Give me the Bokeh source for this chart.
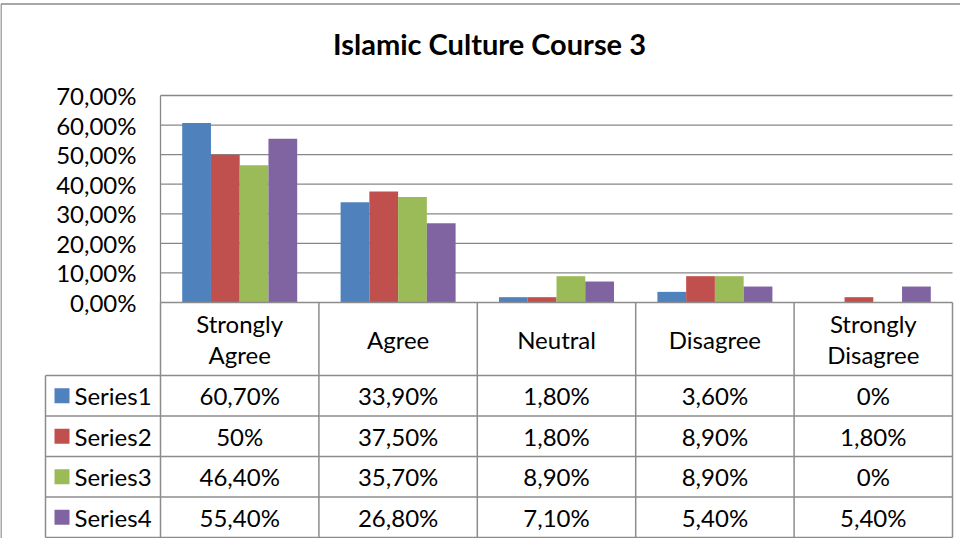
from bokeh.plotting import figure
from bokeh.models import Range1d
from bokeh.embed import file_html
from bokeh.resources import INLINE
from bokeh.core.properties import value

# ---------------- data ----------------
categories = ["Strongly\nAgree", "Agree", "Neutral", "Disagree", "Strongly\nDisagree"]
series_names = ["Series1", "Series2", "Series3", "Series4"]
series1 = [60.7, 33.9, 1.8, 3.6, 0.0]
series2 = [50.0, 37.5, 1.8, 8.9, 1.8]
series3 = [46.4, 35.7, 8.9, 8.9, 0.0]
series4 = [55.4, 26.8, 7.1, 5.4, 5.4]
y_ticks = [0, 10, 20, 30, 40, 50, 60, 70]
colors = ["#4F81BD", "#C0504D", "#9BBB59", "#8064A2"]
title_text = "Islamic Culture Course 3"

series = [series1, series2, series3, series4]

FONT = "Lato"
FS = "24px"

# ---------------- layout helpers ----------------
W, H = 960, 538
OX0, OY0 = 8, 8            # page offset of the figure
PX = 158.4                 # pixels per category
PY = 207.0 / 70.0          # pixels per percent
LEFT, RIGHT, BASE = 168.0, 960.0, 310.0


def X(ox):
    return (ox - LEFT) / PX


def Y(oy):
    return (BASE - oy) / PY


p = figure(width=W, height=H, output_backend="svg", toolbar_location=None,
           x_range=Range1d(X(OX0), X(OX0 + W)), y_range=Range1d(Y(OY0 + H), Y(OY0)),
           min_border=0, x_axis_location=None, y_axis_location=None,
           outline_line_color=None, background_fill_color="white",
           border_fill_color="white")
p.xgrid.visible = False
p.ygrid.visible = False

GRID = "#878787"

# outer chart border (left and top visible)
p.segment(x0=[X(8.5), X(8.5)], y0=[Y(11.5), Y(11.5)], x1=[X(8.5), X(970)], y1=[Y(546), Y(11.5)],
          line_color="#8a8a8a", line_width=1.5)

# gridlines
p.segment(x0=[X(LEFT)] * (len(y_ticks) - 1), y0=y_ticks[1:],
          x1=[X(RIGHT)] * (len(y_ticks) - 1), y1=y_ticks[1:],
          line_color=GRID, line_width=1.3)
# value axis line
p.segment(x0=[X(LEFT)], y0=[0], x1=[X(LEFT)], y1=[y_ticks[-1]], line_color=GRID, line_width=1.3)

# bars
bw = 28.75 / PX
for j, (vals, col) in enumerate(zip(series, colors)):
    xs = [i + 0.5 + (j - 1.5) * bw for i in range(len(categories))]
    p.vbar(x=xs, top=vals, bottom=0, width=bw, fill_color=col, line_color=None)

# y tick labels
def fmt2(v):
    return ("%.2f" % v).replace(".", ",") + "%"


p.text(x=[X(144)] * len(y_ticks), y=y_ticks, text=[fmt2(t) for t in y_ticks],
       text_align="right", text_baseline="middle", text_font=value(FONT),
       text_font_size=FS, text_color="black")

# title
p.text(x=[X(497)], y=[Y(51)], text=[title_text], text_align="center", text_baseline="middle",
       text_font=value(FONT), text_font_style="bold", text_font_size="29px", text_color="black")

# ---------------- data table ----------------
col_edges = [LEFT + PX * k for k in range(len(categories) + 1)]
row_edges = [BASE, 383.0, 423.5, 464.0, 504.5, 545.0]
LEG_LEFT = 53.0
TBL = "#8c8c8c"

# horizontal lines
hx0 = [X(LEFT)] + [X(LEG_LEFT)] * (len(row_edges) - 1)
hx1 = [X(RIGHT)] * len(row_edges)
hy = [Y(r) for r in row_edges]
p.segment(x0=hx0, y0=hy, x1=hx1, y1=hy, line_color=TBL, line_width=1.5)
# vertical lines
vx = [X(c) for c in col_edges] + [X(LEG_LEFT)]
vy0 = [Y(BASE)] * len(col_edges) + [Y(row_edges[1])]
vy1 = [Y(row_edges[-1])] * (len(col_edges) + 1)
p.segment(x0=vx, y0=vy0, x1=vx, y1=vy1, line_color=TBL, line_width=1.5)

# header labels
p.text(x=[i + 0.5 for i in range(len(categories))], y=[Y((row_edges[0] + row_edges[1]) / 2)] * len(categories),
       text=categories, text_align="center", text_baseline="middle", text_font=value(FONT),
       text_font_size=FS, text_color="black", text_line_height=1.1)


def fmtv(v):
    if abs(v - round(v)) < 1e-9:
        return "%d%%" % round(v)
    return ("%.2f" % v).replace(".", ",") + "%"


for j, (name, vals, col) in enumerate(zip(series_names, series, colors)):
    yc = Y((row_edges[j + 1] + row_edges[j + 2]) / 2)
    p.scatter(x=[X(69.5)], y=[yc], marker="square", size=15, fill_color=col, line_color=None)
    p.text(x=[X(82)], y=[yc], text=[name], text_align="left", text_baseline="middle",
           text_font=value(FONT), text_font_size=FS, text_color="black")
    p.text(x=[i + 0.5 for i in range(len(categories))], y=[yc] * len(categories),
           text=[fmtv(v) for v in vals], text_align="center", text_baseline="middle",
           text_font=value(FONT), text_font_size=FS, text_color="black")

open("out.html", "w").write(file_html(p, INLINE))
